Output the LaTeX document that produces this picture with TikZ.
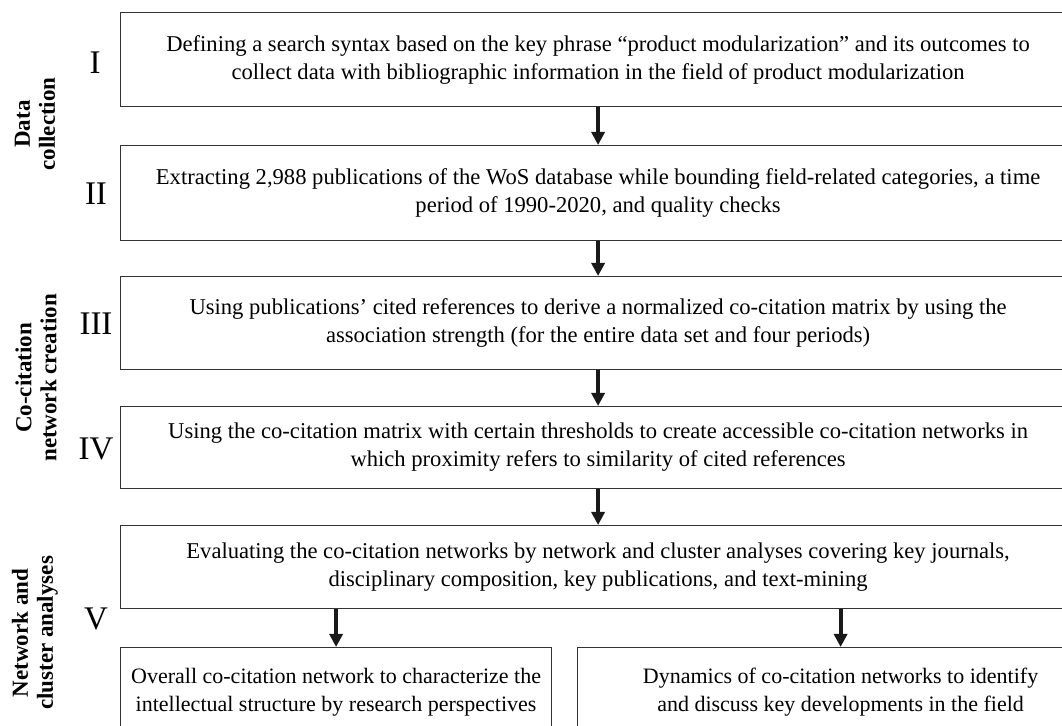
\documentclass[tikz,border=0pt]{standalone}
\usepackage{fontspec}
\setmainfont{Liberation Serif}
\usetikzlibrary{positioning, arrows.meta}

\tikzset{
  stepbox/.style={draw=black!80, line width=0.6pt, inner sep=0pt, anchor=north west,
    font=\fontsize{11.3}{14}\selectfont, align=center},
  subbox/.style={stepbox, font=\fontsize{11}{14}\selectfont, text depth=5pt},
  phase/.style={font=\bfseries\fontsize{11.5}{12.5}\selectfont, align=center, rotate=90},
  numeral/.style={font=\fontsize{16.5}{16}\selectfont},
  flow/.style={-{Triangle[length=6.5pt, width=6.5pt]}, line width=2pt, black!90}
}

\begin{document}
\begin{tikzpicture}[x=0.5pt, y=-0.5pt]
  \clip (0,0) rectangle (1062,726);

  % Phase labels
  \node[phase] (pdata) at (35, 124) {Data\\collection};
  \node[phase] (pnet) at (36, 378) {Co-citation\\network creation};
  \node[phase] (pclu) at (35, 633) {Network and\\cluster analyses};

  % Step numbers
  \node[numeral] (nI) at (95, 63) {I};
  \node[numeral] (nII) at (96, 194) {II};
  \node[numeral] (nIII) at (96, 324) {III};
  \node[numeral] (nIV) at (96, 449) {IV};
  \node[numeral] (nV) at (96, 619) {V};

  % Steps
  \node[stepbox, minimum width=477.5pt, minimum height=47pt] (sI) at (120, 12)
    {Defining a search syntax based on the key phrase ``product modularization'' and its outcomes to\\
     collect data with bibliographic information in the field of product modularization};
  \node[stepbox, minimum width=477.5pt, minimum height=47.5pt] (sII) at (120, 145)
    {Extracting 2,988 publications of the WoS database while bounding field-related categories, a time\\
     period of 1990-2020, and quality checks};
  \node[stepbox, minimum width=477.5pt, minimum height=46.5pt] (sIII) at (120, 276)
    {Using publications' cited references to derive a normalized co-citation matrix by using the\\
     association strength (for the entire data set and four periods)};
  \node[stepbox, minimum width=477.5pt, minimum height=41pt] (sIV) at (120, 406)
    {Using the co-citation matrix with certain thresholds to create accessible co-citation networks in\\
     which proximity refers to similarity of cited references};
  \node[stepbox, minimum width=477.5pt, minimum height=41.5pt] (sV) at (120, 525)
    {Evaluating the co-citation networks by network and cluster analyses covering key journals,\\
     disciplinary composition, key publications, and text-mining};
  \node[subbox, minimum width=215.5pt, minimum height=47pt] (sVa) at (120, 647)
    {Overall co-citation network to characterize the\\
     intellectual structure by research perspectives};
  \node[subbox, minimum width=263pt, minimum height=47pt] (sVb) at (577, 647)
    {Dynamics of co-citation networks to identify\\
     and discuss key developments in the field};

  % Flow
  \draw[flow] (sI.south) -- (sII.north);
  \draw[flow] (sII.south) -- (sIII.north);
  \draw[flow] (sIII.south) -- (sIV.north);
  \draw[flow] (sIV.south) -- (sV.north);
  \draw[flow] (sV.south -| sVa.north) -- (sVa.north);
  \draw[flow] (sV.south -| sVb.north) -- (sVb.north);
\end{tikzpicture}
\end{document}
